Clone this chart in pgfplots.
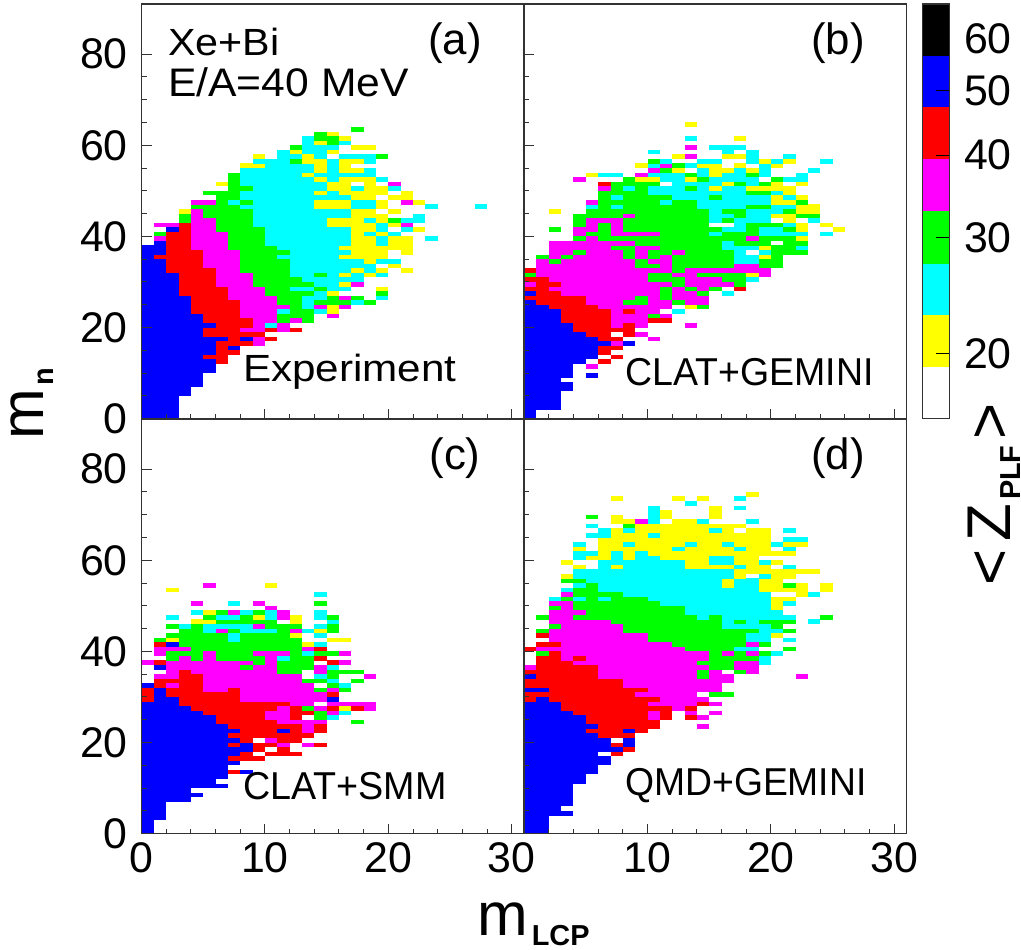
\documentclass[border=0pt]{standalone}
\usepackage{pgfplots}
\pgfplotsset{compat=1.18}
\usepackage{fontspec}
\setmainfont{Liberation Sans}
\definecolor{c1}{RGB}{255,255,0}
\definecolor{c2}{RGB}{0,255,255}
\definecolor{c3}{RGB}{0,255,0}
\definecolor{c4}{RGB}{255,0,255}
\definecolor{c5}{RGB}{255,0,0}
\definecolor{c6}{RGB}{0,0,255}
\newcommand{\fs}[1]{\fontsize{#1}{#1}\selectfont}
% each row of a table: y x0 x1 colour (1 yellow,2 cyan,3 green,4 magenta,5 red,6 blue)
\newcommand{\cells}[1]{\addplot[line width=4.62bp,line cap=butt,
  visualization depends on={value \thisrowno{3} \as \cc},
  quiver={u=\thisrowno{2}-\thisrowno{1},v=0,every arrow/.append style={draw=c\cc}}]
  table[row sep=\\,header=false,x index=1,y expr=\thisrowno{0}+0.5]{#1};}
\pgfplotsset{pan/.style={scale only axis,width=382.6bp,height=414.7bp,anchor=south west,
  xmin=0,xmax=31,ymin=0,ymax=91,xtick={0,10,20,30},ytick={0,20,40,60,80},
  minor x tick num=4,minor y tick num=3,tick align=inside,tick pos=left,
  major tick length=10bp,minor tick length=5bp,axis on top,
  axis line style={line width=1.3bp,black!80},tick style={line width=1bp,black!80},
  /pgf/number format/assume math mode=true,
  tick label style={font=\fs{43},inner sep=0pt},
  xticklabel style={yshift=-9bp},yticklabel style={xshift=-13.5bp}}}
\begin{document}
\begin{tikzpicture}
\path[use as bounding box] (0,0) rectangle (1021bp,950bp);
% ---- (a)
\begin{axis}[pan,at={(141.5bp,531.3bp)},xticklabels={}]
\cells{0 0 3 6\\1 0 3 6\\2 0 3 6\\3 0 3 6\\4 0 3 6\\5 0 4 6\\6 0 4 6\\7 0 5 6\\8 0 5 6\\9 0 5 6\\10 0 6 6\\11 0 6 6\\
12 0 6 6\\12 6 7 5\\13 0 5 6\\13 5 7 5\\14 0 6 6\\14 6 8 5\\15 0 6 6\\15 6 7 5\\15 7 8 6\\
16 0 6 6\\16 6 9 5\\16 9 10 4\\17 0 7 6\\17 7 8 5\\17 8 9 6\\17 9 10 4\\17 10 11 5\\18 0 5 6\\18 5 10 5\\
19 0 5 6\\19 5 8 5\\19 8 10 4\\19 10 11 5\\19 11 12 4\\19 12 13 5\\
20 0 6 6\\20 6 9 5\\20 9 10 4\\20 10 11 2\\20 11 12 4\\
21 0 5 6\\21 5 9 5\\21 9 11 4\\21 11 12 3\\21 12 13 4\\21 13 14 3\\
22 0 5 6\\22 5 8 5\\22 8 11 4\\22 11 14 3\\22 15 16 4\\
23 0 4 6\\23 4 8 5\\23 8 11 4\\23 11 12 2\\23 12 14 3\\23 14 15 2\\23 15 16 1\\
24 0 4 6\\24 4 8 5\\24 8 12 4\\24 12 13 3\\24 13 14 2\\24 14 15 4\\24 15 16 1\\24 16 17 4\\
25 0 4 6\\25 4 8 5\\25 8 11 4\\25 11 13 3\\25 13 14 2\\25 14 17 3\\25 17 18 2\\25 18 19 3\\
26 0 4 6\\26 4 7 5\\26 7 11 4\\26 11 13 3\\26 13 15 2\\26 15 16 3\\26 16 17 4\\26 17 18 3\\26 19 20 2\\
27 0 3 6\\27 3 7 5\\27 7 10 4\\27 10 14 3\\27 14 15 2\\27 15 16 1\\27 19 20 3\\
28 0 3 6\\28 3 7 5\\28 7 10 4\\28 10 12 3\\28 12 14 2\\28 14 15 3\\28 15 17 2\\28 19 20 1\\
29 0 3 6\\29 3 6 5\\29 6 9 4\\29 9 14 3\\29 14 16 2\\29 16 17 1\\29 17 18 4\\
30 0 3 6\\30 3 6 5\\30 6 9 4\\30 9 13 3\\30 13 18 2\\
31 0 3 6\\31 3 6 5\\31 6 9 4\\31 9 12 3\\31 12 14 2\\31 14 15 3\\31 15 16 2\\31 16 17 1\\31 17 18 2\\31 18 19 1\\31 19 20 2\\
32 0 2 6\\32 2 6 5\\32 6 8 4\\32 8 12 3\\32 12 17 2\\32 17 18 1\\32 18 19 2\\32 19 20 1\\32 21 22 1\\
33 0 2 6\\33 2 5 5\\33 5 8 4\\33 8 12 3\\33 12 19 2\\33 20 21 1\\
34 0 2 6\\34 2 5 5\\34 5 8 4\\34 8 12 3\\34 12 18 2\\34 18 19 1\\34 19 21 2\\
35 0 1 6\\35 1 5 5\\35 5 8 4\\35 8 11 3\\35 11 16 2\\35 16 20 1\\
36 0 2 6\\36 2 5 5\\36 5 8 4\\36 8 12 3\\36 12 17 2\\36 17 20 1\\36 21 22 1\\
37 0 2 6\\37 2 4 5\\37 4 7 4\\37 7 11 3\\37 11 16 2\\37 16 22 1\\
38 1 2 6\\38 2 4 5\\38 4 7 4\\38 7 10 3\\38 10 17 2\\38 17 19 1\\38 19 20 2\\38 20 22 1\\
39 1 2 4\\39 2 4 5\\39 4 7 4\\39 7 10 3\\39 10 17 2\\39 17 19 1\\39 19 20 2\\39 20 22 1\\39 23 24 2\\
40 1 2 3\\40 2 4 5\\40 4 7 4\\40 7 10 3\\40 10 17 2\\40 17 18 1\\40 18 19 2\\40 19 20 1\\40 20 21 2\\
41 2 3 6\\41 3 4 5\\41 4 6 4\\41 6 10 3\\41 10 17 2\\41 17 19 1\\41 19 20 2\\41 21 22 2\\41 22 23 1\\
42 1 3 4\\42 3 4 5\\42 4 6 4\\42 6 9 3\\42 9 15 2\\42 15 19 1\\42 19 20 2\\42 20 21 1\\42 21 22 4\\
43 3 4 3\\43 4 6 4\\43 6 9 3\\43 9 15 2\\43 15 18 1\\43 18 19 2\\43 19 20 1\\43 20 21 3\\43 21 23 2\\
44 3 4 3\\44 4 5 4\\44 5 9 3\\44 9 17 2\\44 17 20 1\\44 22 23 2\\
45 3 4 1\\45 4 5 4\\45 5 9 3\\45 9 17 2\\45 17 19 1\\45 20 21 1\\
46 4 8 3\\46 8 14 2\\46 14 17 1\\46 17 19 2\\46 19 20 1\\46 23 24 2\\46 27 28 2\\
47 4 6 4\\47 6 7 3\\47 7 8 2\\47 8 9 3\\47 9 14 2\\47 14 17 1\\47 17 19 2\\47 19 20 1\\47 21 22 4\\47 22 23 1\\
48 6 8 3\\48 8 17 2\\48 17 19 1\\48 20 22 1\\
49 5 8 3\\49 8 14 2\\49 14 15 1\\49 15 16 2\\49 16 20 1\\49 21 22 1\\
50 7 9 3\\50 9 15 2\\50 15 17 1\\50 17 18 2\\50 18 20 1\\50 20 21 2\\
51 6 7 1\\51 7 8 3\\51 8 15 2\\51 15 17 1\\51 18 19 1\\51 20 21 4\\
52 7 8 3\\52 8 14 2\\52 14 15 1\\52 15 16 2\\52 16 19 1\\52 19 20 2\\
53 7 8 3\\53 8 13 2\\53 13 14 1\\53 14 19 2\\
54 8 14 2\\54 14 15 1\\54 15 16 2\\54 16 18 1\\54 18 19 2\\
55 8 10 1\\55 10 14 2\\55 14 15 1\\55 15 16 2\\55 16 17 1\\
56 9 12 2\\56 12 13 3\\56 13 15 1\\56 15 16 2\\56 16 18 1\\56 18 19 2\\
57 9 10 1\\57 11 13 2\\57 13 14 1\\57 14 15 2\\57 16 19 2\\57 19 20 3\\
58 11 12 2\\58 12 13 1\\58 13 15 2\\58 15 16 1\\
59 12 13 3\\59 13 16 2\\59 17 19 1\\
60 13 14 2\\60 14 15 1\\60 15 16 3\\60 16 17 2\\
61 13 14 2\\61 14 16 3\\61 16 17 1\\
62 14 15 3\\62 15 16 1\\
63 17 18 3\\}
\end{axis}
% ---- (b)
\begin{axis}[pan,at={(524.1bp,531.3bp)},xticklabels={},yticklabels={}]
\cells{0 0 1 6\\1 0 1 6\\2 0 3 6\\3 0 3 6\\4 0 3 6\\5 0 3 6\\6 0 4 6\\7 0 4 6\\8 0 3 6\\9 0 4 6\\9 5 6 6\\10 0 4 6\\
11 0 4 6\\11 5 6 4\\12 0 5 6\\12 6 7 5\\13 0 6 6\\13 7 8 5\\14 0 6 6\\14 6 7 5\\15 0 6 6\\15 6 8 5\\
16 0 6 6\\16 6 7 6\\16 7 8 4\\16 8 9 6\\17 0 6 6\\17 6 8 5\\17 10 11 4\\18 0 5 6\\18 5 7 5\\18 8 9 5\\18 9 10 4\\
19 0 4 6\\19 4 9 5\\20 0 4 6\\20 4 7 5\\20 7 8 4\\20 8 9 5\\20 9 10 4\\20 13 14 4\\
21 0 3 6\\21 3 7 5\\21 7 10 4\\21 10 12 5\\22 0 3 6\\22 3 7 5\\22 7 10 4\\22 10 11 3\\22 11 12 4\\
23 0 3 6\\23 3 7 5\\23 7 8 4\\23 8 9 5\\23 9 11 4\\23 12 13 2\\
24 0 2 6\\24 2 6 5\\24 6 12 4\\24 13 14 1\\24 14 15 3\\
25 0 1 6\\25 1 5 5\\25 5 8 4\\25 8 10 3\\25 10 12 4\\25 12 13 3\\25 13 15 4\\
26 0 5 5\\26 5 9 4\\26 9 10 3\\26 10 11 4\\26 11 12 3\\26 12 15 4\\
27 0 1 6\\27 1 3 5\\27 3 11 4\\27 11 12 3\\27 12 14 4\\27 14 15 3\\27 16 17 2\\
28 0 2 5\\28 2 11 4\\28 11 12 3\\28 12 13 4\\28 13 14 3\\28 14 15 4\\28 15 16 3\\28 17 18 5\\
29 0 1 4\\29 1 3 5\\29 3 12 4\\29 12 13 3\\29 13 17 4\\29 17 18 3\\
30 0 2 5\\30 2 10 4\\30 10 13 3\\30 13 16 4\\30 16 18 3\\30 18 19 2\\
31 0 1 3\\31 1 10 4\\31 10 12 3\\31 12 14 4\\31 14 18 3\\31 18 19 1\\31 19 20 4\\
32 0 1 5\\32 1 12 4\\32 12 13 3\\32 13 20 4\\
33 1 9 4\\33 9 11 3\\33 11 12 4\\33 12 17 3\\33 17 19 4\\33 19 21 3\\
34 1 2 4\\34 2 3 3\\34 3 9 4\\34 9 10 3\\34 10 12 4\\34 12 17 3\\34 17 19 2\\34 19 21 3\\
35 1 2 3\\35 2 3 4\\35 3 4 3\\35 4 8 4\\35 8 9 3\\35 9 10 4\\35 10 11 3\\35 11 12 4\\35 12 17 3\\35 17 19 2\\35 19 20 1\\35 20 21 3\\
36 2 4 4\\36 4 5 3\\36 5 8 4\\36 8 9 3\\36 9 10 4\\36 10 12 3\\36 12 13 4\\36 13 17 3\\36 17 18 2\\36 19 20 2\\36 20 23 3\\
37 2 7 4\\37 7 9 3\\37 9 11 4\\37 11 16 3\\37 16 19 2\\37 19 20 1\\37 20 22 3\\37 22 23 2\\
38 2 9 4\\38 9 16 3\\38 16 17 2\\38 17 20 3\\38 21 23 3\\
39 4 5 3\\39 5 6 4\\39 6 18 3\\39 18 19 4\\39 19 22 3\\39 22 23 1\\
40 4 5 4\\40 5 7 3\\40 7 11 4\\40 11 15 3\\40 15 16 2\\40 16 19 3\\40 19 23 2\\40 24 25 2\\
41 2 3 3\\41 4 6 4\\41 6 7 3\\41 7 8 4\\41 8 16 3\\41 16 18 2\\41 18 19 3\\41 19 21 2\\41 21 22 3\\41 22 23 1\\41 25 26 1\\
42 4 5 3\\42 5 6 4\\42 6 7 3\\42 7 8 4\\42 8 15 3\\42 17 18 2\\42 18 21 3\\42 21 22 2\\42 22 23 1\\42 24 25 1\\
43 4 5 3\\43 5 8 4\\43 8 15 3\\43 15 16 2\\43 16 17 3\\43 17 20 2\\43 21 22 1\\43 23 24 2\\
44 4 8 3\\44 8 9 4\\44 9 15 3\\44 15 17 2\\44 17 18 3\\44 18 20 2\\44 20 22 1\\44 22 24 3\\
45 2 3 1\\45 5 15 3\\45 15 16 2\\45 16 18 3\\45 18 21 2\\45 21 22 3\\45 22 24 1\\
46 5 6 2\\46 6 7 3\\46 7 8 2\\46 8 14 3\\46 14 18 2\\46 18 20 3\\46 20 22 2\\46 22 24 1\\
47 5 6 4\\47 6 11 3\\47 11 12 2\\47 12 14 3\\47 14 20 2\\47 20 22 1\\47 22 23 3\\
48 6 7 3\\48 7 8 2\\48 8 12 3\\48 12 15 2\\48 15 16 3\\48 16 20 2\\48 20 21 1\\48 21 22 2\\48 22 23 1\\
49 6 10 3\\49 10 18 2\\49 18 20 3\\49 20 21 2\\49 21 22 1\\
50 6 7 4\\50 7 8 3\\50 8 9 2\\50 9 10 3\\50 10 13 2\\50 13 14 3\\50 14 15 2\\50 15 16 1\\50 16 18 2\\50 18 22 1\\
51 6 7 5\\51 7 11 3\\51 12 16 2\\51 16 17 1\\51 17 18 3\\51 18 19 2\\51 19 20 3\\51 20 21 1\\51 22 23 1\\
52 4 5 4\\52 8 9 3\\52 9 11 1\\52 11 13 2\\52 13 14 1\\52 14 15 3\\52 15 19 2\\52 20 21 3\\52 21 23 2\\
53 5 6 1\\53 6 8 2\\53 9 10 4\\53 10 13 2\\53 13 14 3\\53 14 15 2\\53 15 16 1\\53 16 18 2\\53 18 19 3\\53 19 20 2\\53 22 23 2\\
54 10 11 4\\54 11 12 3\\54 12 13 1\\54 14 15 2\\54 15 17 1\\54 17 18 2\\54 18 19 1\\54 19 20 2\\54 23 24 2\\
55 9 10 1\\55 10 11 2\\55 11 12 4\\55 12 13 3\\55 13 14 2\\55 14 16 1\\55 17 18 1\\55 19 20 2\\55 20 21 1\\
56 10 11 3\\56 11 12 2\\56 14 16 2\\56 18 19 2\\56 19 20 1\\56 20 21 2\\56 21 22 1\\56 24 25 2\\
57 12 13 1\\57 13 14 4\\57 16 18 1\\57 18 19 2\\57 21 22 2\\
58 10 11 2\\58 16 17 2\\58 18 19 2\\
59 13 14 4\\59 15 18 2\\
61 13 14 2\\61 17 18 1\\
64 13 14 1\\}
\end{axis}
% ---- (c)
\begin{axis}[pan,at={(141.5bp,116.3bp)}]
\cells{0 0 1 6\\1 0 1 6\\2 0 1 6\\3 0 2 6\\4 0 2 6\\5 0 2 6\\6 0 2 6\\7 0 4 6\\8 0 5 6\\9 0 4 6\\10 0 7 6\\11 0 6 6\\12 0 7 6\\
13 0 7 6\\13 7 8 5\\13 8 9 6\\14 0 7 6\\15 0 8 6\\16 0 7 6\\16 7 10 5\\17 0 8 6\\17 8 9 5\\17 10 13 5\\
18 0 9 6\\18 9 10 5\\18 11 12 5\\19 0 7 6\\19 7 8 5\\19 8 9 6\\19 9 11 5\\19 11 12 4\\19 13 14 4\\19 14 15 5\\
20 0 8 6\\20 8 9 5\\20 10 11 4\\20 11 13 5\\21 0 7 6\\21 7 14 5\\
22 0 8 6\\22 8 11 5\\22 11 12 6\\22 12 13 5\\22 13 14 4\\22 14 15 5\\
23 0 7 6\\23 7 13 5\\23 13 14 4\\23 14 15 5\\24 0 6 6\\24 6 11 5\\24 11 15 4\\24 17 18 3\\
25 0 6 6\\25 6 10 5\\25 10 12 4\\25 12 13 5\\25 14 15 3\\25 15 16 2\\
26 0 5 6\\26 5 10 5\\26 10 12 4\\26 12 14 5\\26 14 15 3\\26 15 16 4\\26 16 17 2\\
27 0 4 6\\27 4 11 5\\27 11 12 4\\27 12 13 5\\27 13 14 3\\27 14 15 4\\27 15 16 5\\27 16 17 1\\27 17 18 5\\27 18 19 4\\
28 0 3 6\\28 3 12 5\\28 12 14 4\\28 15 19 4\\
29 0 1 5\\29 1 3 6\\29 3 8 5\\29 8 15 4\\29 15 16 6\\
30 0 1 5\\30 1 2 6\\30 2 8 5\\30 8 15 4\\30 15 16 5\\
31 0 1 5\\31 1 2 6\\31 2 5 5\\31 5 7 4\\31 7 8 5\\31 8 14 4\\31 14 15 3\\31 15 16 4\\31 16 17 3\\
32 0 1 6\\32 1 2 5\\32 2 3 4\\32 3 5 5\\32 5 14 4\\32 15 16 3\\32 16 17 2\\
33 1 5 5\\33 5 13 4\\33 13 15 3\\33 15 16 2\\33 17 18 3\\
34 1 3 4\\34 3 5 5\\34 5 13 4\\34 14 15 2\\34 15 16 3\\34 18 19 4\\
35 2 3 4\\35 3 4 5\\35 4 11 4\\35 11 13 3\\35 14 15 4\\35 15 18 3\\
36 1 2 6\\36 2 8 4\\36 8 9 3\\36 9 11 4\\36 11 14 3\\36 14 15 4\\36 15 16 2\\
37 0 1 4\\37 1 2 5\\37 2 9 4\\37 9 10 3\\37 10 11 4\\37 11 14 3\\37 15 16 5\\37 16 17 4\\
38 2 3 3\\38 3 4 4\\38 4 5 3\\38 5 6 4\\38 6 10 3\\38 10 11 4\\38 11 12 2\\38 12 14 3\\38 14 15 5\\
39 1 2 4\\39 2 5 3\\39 5 6 4\\39 6 9 3\\39 9 12 4\\39 12 13 3\\39 13 14 2\\39 14 16 3\\39 16 17 4\\
40 1 4 4\\40 4 13 3\\40 13 14 4\\40 14 15 5\\
41 1 2 5\\41 2 3 6\\41 3 13 3\\41 13 14 1\\41 14 15 2\\
42 1 2 3\\42 2 3 1\\42 3 7 3\\42 7 8 2\\42 8 13 3\\42 15 17 1\\
43 2 3 3\\43 3 7 3\\43 7 8 2\\43 8 12 3\\43 12 13 1\\43 14 15 2\\
44 3 5 3\\44 5 6 2\\44 6 7 4\\44 7 8 3\\44 8 11 2\\44 11 12 3\\44 12 13 4\\44 13 14 2\\44 14 15 1\\44 15 16 3\\
45 2 3 3\\45 3 4 2\\45 4 5 3\\45 5 9 2\\45 9 10 4\\45 10 13 3\\45 14 15 2\\45 15 16 3\\
46 4 6 1\\46 6 11 3\\46 12 13 1\\46 15 16 2\\
47 2 3 2\\47 5 6 3\\47 6 8 2\\47 8 9 3\\47 9 10 1\\47 10 11 2\\47 11 12 4\\47 12 13 1\\47 14 15 2\\47 15 16 3\\
48 4 5 2\\48 5 6 1\\48 6 7 3\\48 7 8 4\\48 8 9 2\\48 9 10 3\\48 10 11 2\\48 11 12 4\\48 14 15 2\\
49 10 11 4\\
50 4 5 4\\50 7 8 2\\50 9 10 4\\50 14 15 3\\
52 14 15 2\\
53 2 3 1\\
54 5 6 4\\54 10 11 1\\}
\end{axis}
% ---- (d)
\begin{axis}[pan,at={(524.1bp,116.3bp)},yticklabels={},xticklabels={,10,20,30}]
\cells{0 0 2 6\\1 0 2 6\\2 0 2 6\\3 0 2 6\\4 0 4 6\\5 0 3 6\\6 0 4 6\\7 0 4 6\\8 0 4 6\\9 0 4 6\\10 0 4 6\\11 0 5 6\\12 0 5 6\\13 0 6 6\\14 0 6 6\\15 0 7 6\\16 0 7 6\\
17 0 6 6\\17 7 8 5\\18 0 8 6\\18 8 9 5\\19 0 7 6\\19 7 8 5\\19 8 9 6\\20 0 7 6\\20 8 9 6\\21 0 6 6\\21 6 9 5\\
22 0 5 6\\22 5 8 5\\22 8 9 6\\22 9 10 5\\23 0 6 6\\23 6 11 5\\23 14 15 4\\24 0 5 6\\24 5 11 5\\
25 0 5 6\\25 5 10 5\\25 10 11 4\\25 11 12 5\\25 13 14 5\\25 14 15 4\\
26 0 4 6\\26 4 10 5\\26 10 11 4\\26 11 12 5\\26 13 14 4\\26 15 16 4\\
27 0 3 6\\27 3 12 5\\27 12 13 4\\27 13 14 5\\
28 0 3 6\\28 3 10 5\\28 10 14 4\\28 14 15 5\\28 15 16 4\\
29 0 1 5\\29 1 2 6\\29 2 11 5\\29 11 15 4\\
30 0 9 5\\30 9 14 4\\30 15 17 3\\
31 0 2 6\\31 2 10 5\\31 10 16 4\\
32 0 8 5\\32 8 16 4\\33 0 8 5\\33 8 17 4\\
34 0 1 6\\34 1 6 5\\34 6 14 4\\34 14 15 3\\34 15 17 4\\34 22 23 4\\
35 0 6 5\\35 6 14 4\\35 14 15 3\\35 15 16 4\\35 17 18 3\\35 18 19 4\\
36 0 1 4\\36 1 6 5\\36 6 15 4\\36 15 17 3\\36 17 19 4\\
37 1 4 5\\37 4 14 4\\37 14 15 3\\37 15 17 3\\37 17 19 4\\37 19 20 2\\
38 1 3 5\\38 3 4 4\\38 4 5 5\\38 5 14 4\\38 14 15 4\\38 15 19 3\\38 19 20 2\\
39 1 2 3\\39 2 3 5\\39 3 14 4\\39 14 15 4\\39 15 16 3\\39 16 17 4\\39 17 18 3\\39 18 19 4\\39 19 20 3\\39 20 21 2\\
40 0 1 5\\40 1 13 4\\40 13 17 3\\40 17 19 2\\40 21 22 3\\
41 1 3 5\\41 3 12 4\\41 12 18 3\\41 18 19 4\\41 19 20 3\\
42 2 10 4\\42 10 18 3\\42 18 20 2\\42 21 22 2\\
43 1 2 5\\43 2 10 4\\43 10 18 3\\43 18 20 2\\43 20 21 1\\
44 1 2 3\\44 2 8 4\\44 8 19 3\\44 19 21 2\\44 21 22 3\\
45 2 3 3\\45 3 8 4\\45 8 16 3\\45 16 20 2\\45 20 21 3\\
46 2 7 4\\46 7 16 3\\46 16 17 2\\46 17 18 3\\46 18 19 2\\46 19 22 3\\46 23 24 2\\
47 1 2 3\\47 2 4 4\\47 4 14 3\\47 14 15 2\\47 15 16 3\\47 16 22 2\\47 24 25 3\\
48 2 5 4\\48 5 13 3\\48 13 21 2\\
49 2 3 3\\49 3 4 4\\49 4 13 3\\49 13 20 2\\49 20 21 1\\
50 2 4 4\\50 4 11 3\\50 11 20 2\\50 20 21 1\\50 21 22 2\\
51 2 3 2\\51 3 4 3\\51 4 5 2\\51 5 6 3\\51 6 7 2\\51 7 10 3\\51 10 20 2\\51 20 22 1\\
52 3 4 4\\52 4 8 3\\52 8 20 2\\52 22 23 1\\52 23 24 2\\
53 3 4 2\\53 4 6 3\\53 6 19 2\\53 19 23 1\\53 24 25 1\\
54 4 5 2\\54 5 6 3\\54 6 16 2\\54 16 17 1\\54 17 19 2\\54 19 21 1\\54 21 22 3\\54 22 23 1\\54 24 25 1\\
55 3 5 3\\55 5 16 2\\55 16 17 1\\55 17 19 2\\55 19 21 1\\
56 3 4 1\\56 4 17 2\\56 17 18 1\\56 19 20 2\\56 20 22 1\\
57 4 17 2\\57 17 24 1\\
58 4 5 1\\58 6 7 2\\58 7 8 1\\58 8 13 2\\58 13 17 1\\58 17 18 2\\58 18 20 1\\58 21 22 2\\
59 3 4 1\\59 6 13 2\\59 13 15 1\\59 15 17 2\\59 17 19 1\\59 19 20 2\\59 20 21 1\\
60 4 5 2\\60 5 7 1\\60 7 8 2\\60 8 9 1\\60 9 11 2\\60 11 15 1\\60 15 17 2\\60 17 19 1\\
61 4 6 2\\61 6 7 1\\61 7 8 2\\61 8 9 1\\61 9 10 2\\61 10 22 1\\
62 4 5 1\\62 6 12 1\\62 12 13 2\\62 13 17 1\\62 17 18 2\\62 18 20 1\\62 21 22 2\\
63 4 5 2\\63 6 8 1\\63 8 9 2\\63 9 13 1\\63 13 14 2\\63 14 16 1\\63 16 17 2\\63 17 20 1\\63 20 21 2\\63 21 23 1\\
64 6 20 1\\64 21 23 2\\
65 5 7 2\\65 7 8 1\\65 8 10 1\\65 10 11 2\\65 11 20 1\\
66 6 7 2\\66 7 8 1\\66 8 9 2\\66 9 15 1\\66 15 16 2\\66 16 17 1\\66 18 20 1\\66 21 22 2\\
67 5 6 2\\67 8 9 3\\67 9 18 1\\
68 7 9 1\\68 9 10 4\\68 10 11 2\\68 12 14 1\\68 14 15 2\\68 18 19 2\\
69 5 6 3\\69 7 8 1\\69 10 11 2\\69 11 12 1\\69 15 16 1\\
70 10 11 2\\70 11 12 1\\70 15 16 1\\
71 10 11 2\\71 15 16 1\\71 17 18 2\\
72 13 14 2\\
73 7 8 1\\73 12 13 1\\73 14 15 1\\73 17 18 2\\
74 18 19 1\\}
\end{axis}
% ---- colour bar
\begin{axis}[scale only axis,width=26.6bp,height=414.7bp,at={(922.7bp,531.3bp)},anchor=south west,
  xmin=0,xmax=1,ymode=log,ymin=15.96,ymax=67.7,xtick=\empty,axis on top,
  ytick={20,30,40,50,60},yticklabels={20,30,40,50,60},yminorticks=false,
  log basis y=10,ytick pos=right,yticklabel pos=right,tick align=inside,major tick length=13bp,
  axis line style={line width=1.1bp,black!80},tick style={line width=0.9bp,black},
  /pgf/number format/assume math mode=true,tick label style={font=\fs{43},inner sep=0pt},yticklabel style={xshift=14.5bp}]
\addplot[fill=white,draw=none] coordinates {(0,15.96)(1,15.96)(1,19.1)(0,19.1)} --cycle;
\addplot[fill=c1,draw=none] coordinates {(0,19.1)(1,19.1)(1,22.9)(0,22.9)} --cycle;
\addplot[fill=c2,draw=none] coordinates {(0,22.9)(1,22.9)(1,27.4)(0,27.4)} --cycle;
\addplot[fill=c3,draw=none] coordinates {(0,27.4)(1,27.4)(1,32.9)(0,32.9)} --cycle;
\addplot[fill=c4,draw=none] coordinates {(0,32.9)(1,32.9)(1,39.4)(0,39.4)} --cycle;
\addplot[fill=c5,draw=none] coordinates {(0,39.4)(1,39.4)(1,47.2)(0,47.2)} --cycle;
\addplot[fill=c6,draw=none] coordinates {(0,47.2)(1,47.2)(1,56.5)(0,56.5)} --cycle;
\addplot[fill=black,draw=none] coordinates {(0,56.5)(1,56.5)(1,67.7)(0,67.7)} --cycle;
\end{axis}
% ---- texts
\newcommand{\T}[5]{\node[anchor=west,inner sep=0pt,font=\fs{#4}] at (#1bp,950bp-#2bp) {\scalebox{#5}[1]{#3}};}
\T{168}{42}{Xe+Bi}{38}{1.09}
\T{168}{82}{E/A=40 MeV}{40}{1.07}
\T{243}{372}{Experiment}{38}{1.115}
\T{625}{372}{CLAT+GEMINI}{39}{0.965}
\T{243}{786}{CLAT+SMM}{39}{0.97}
\T{625}{786}{QMD+GEMINI}{39}{0.96}
\node[font=\fs{44}] at (455bp,950bp-43bp) {(a)};
\node[font=\fs{44}] at (838bp,950bp-43bp) {(b)};
\node[font=\fs{44}] at (455bp,950bp-458bp) {(c)};
\node[font=\fs{44}] at (838bp,950bp-458bp) {(d)};
\node[rotate=90,anchor=base west,inner sep=0pt,font=\fs{61}] at (43bp,950bp-440bp) {m\hspace{4bp}\raisebox{-10bp}{\fs{29}\bfseries n}};
\node[anchor=base west,inner sep=0pt,font=\fs{61}] at (477bp,950bp-935bp) {m\hspace{4bp}\raisebox{-10bp}{\fs{29}\bfseries LCP}};
\node[rotate=90,anchor=base west,inner sep=0pt,font=\fs{62}] at (1010bp,950bp-586bp) {<\hspace{8bp}Z\hspace{4bp}\raisebox{-10bp}{\fs{29}\bfseries PLF}\hspace{6bp}>};
\end{tikzpicture}
\end{document}
